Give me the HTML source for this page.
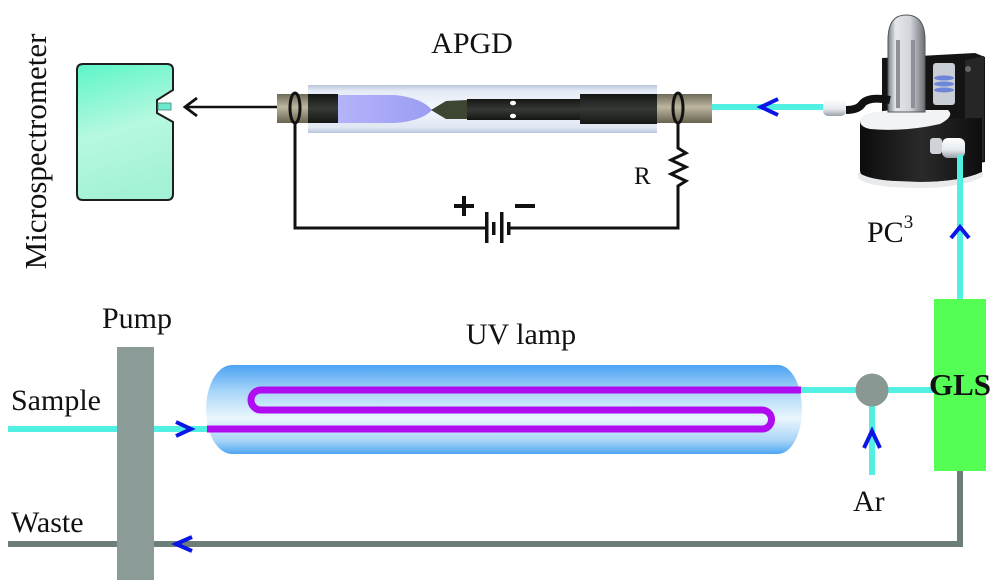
<!DOCTYPE html>
<html><head><meta charset="utf-8"><style>
html,body{margin:0;padding:0;background:#fff;}
svg{display:block;}
text{font-family:"Liberation Serif",serif;fill:#111;}
</style></head><body>
<svg width="1000" height="583" viewBox="0 0 1000 583" xmlns="http://www.w3.org/2000/svg">
<defs>
<linearGradient id="spec" x1="0" y1="0" x2="0.2" y2="1">
<stop offset="0" stop-color="#5cf5c8"/><stop offset="0.55" stop-color="#b6f8e0"/><stop offset="1" stop-color="#a4f2d6"/>
</linearGradient>
<linearGradient id="brown" x1="0" y1="0" x2="0" y2="1">
<stop offset="0" stop-color="#6e6a58"/><stop offset="0.45" stop-color="#bdb7a0"/><stop offset="1" stop-color="#67634f"/>
</linearGradient>
<linearGradient id="glass" x1="0" y1="0" x2="0" y2="1">
<stop offset="0" stop-color="#b9c5dc"/><stop offset="0.12" stop-color="#e4eaf5"/><stop offset="0.5" stop-color="#f4f7fc"/><stop offset="0.88" stop-color="#e0e7f3"/><stop offset="1" stop-color="#b9c5dc"/>
</linearGradient>
<linearGradient id="dark" x1="0" y1="0" x2="0" y2="1">
<stop offset="0" stop-color="#141614"/><stop offset="0.5" stop-color="#363a36"/><stop offset="1" stop-color="#141614"/>
</linearGradient>
<linearGradient id="glow" x1="0" y1="0" x2="1" y2="0">
<stop offset="0" stop-color="#b4b4fa"/><stop offset="1" stop-color="#9c9cf2"/>
</linearGradient>
<linearGradient id="uv" x1="0" y1="0" x2="0" y2="1">
<stop offset="0" stop-color="#4aa2f3"/><stop offset="0.3" stop-color="#a9d6f8"/><stop offset="0.6" stop-color="#eaf6fd"/><stop offset="0.85" stop-color="#a8d4f7"/><stop offset="1" stop-color="#4ea6f2"/>
</linearGradient>
<linearGradient id="bulb" x1="0" y1="0" x2="1" y2="0">
<stop offset="0" stop-color="#7a7e82"/><stop offset="0.2" stop-color="#e4e7ea"/><stop offset="0.6" stop-color="#d2d6da"/><stop offset="1" stop-color="#6a6e72"/>
</linearGradient>
<linearGradient id="conn" x1="0" y1="0" x2="0" y2="1">
<stop offset="0" stop-color="#ffffff"/><stop offset="0.6" stop-color="#e4e8ee"/><stop offset="1" stop-color="#9aa0a8"/>
</linearGradient>
<linearGradient id="body" x1="0" y1="0" x2="1" y2="0">
<stop offset="0" stop-color="#0c0c0c"/><stop offset="0.5" stop-color="#2a2a2a"/><stop offset="1" stop-color="#0e0e0e"/>
</linearGradient>
</defs>

<!-- Microspectrometer -->
<text transform="translate(46,151.5) rotate(-90)" text-anchor="middle" font-size="31">Microspectrometer</text>
<path d="M83,64 L167,64 Q173,64 173,70 L173,90 L157,100 L157,113 L173,122 L173,194 Q173,200 167,200 L83,200 Q77,200 77,194 L77,70 Q77,64 83,64 Z" fill="url(#spec)" stroke="#1e1e1e" stroke-width="2"/>
<rect x="158" y="103" width="13" height="7" fill="#6ee8cc" stroke="#3a8a78" stroke-width="0.8"/>
<line x1="185" y1="107" x2="277" y2="107" stroke="#111" stroke-width="2.5"/>
<polyline points="197,98 185,107 197,116" fill="none" stroke="#111" stroke-width="2.8"/>

<!-- APGD -->
<text x="472" y="53" text-anchor="middle" font-size="30">APGD</text>
<rect x="308" y="85" width="349" height="48" fill="url(#glass)"/>
<rect x="277" y="94" width="31" height="29" fill="url(#brown)"/>
<rect x="657" y="94" width="55" height="29" fill="url(#brown)"/>
<rect x="308" y="94" width="30" height="29" fill="url(#dark)"/>
<path d="M338,95 L395,95 Q422,98 432,110 Q422,121 395,123 L338,123 Z" fill="url(#glow)"/>
<path d="M431,110 L446,101 L467,100 L467,119 L446,119 Z" fill="#3d4533"/>
<rect x="467" y="99" width="113" height="21" fill="url(#dark)"/>
<ellipse cx="513" cy="103" rx="3" ry="2.3" fill="#fff"/>
<ellipse cx="513" cy="116" rx="3" ry="2.3" fill="#fff"/>
<rect x="580" y="94" width="77" height="30" fill="url(#dark)"/>
<ellipse cx="295" cy="108" rx="5" ry="15" fill="none" stroke="#111" stroke-width="3"/>
<ellipse cx="678" cy="108" rx="5" ry="15" fill="none" stroke="#111" stroke-width="3"/>
<!-- circuit -->
<polyline points="295,123 295,228 486,228" fill="none" stroke="#111" stroke-width="3"/>
<polyline points="678,123 678,148 686,153 671,160 686,167 671,174 686,181 678,186 678,228 508,228" fill="none" stroke="#111" stroke-width="3" stroke-linejoin="miter"/>
<rect x="485" y="212" width="3.5" height="31" fill="#111"/>
<rect x="492" y="222" width="3.5" height="13" fill="#111"/>
<rect x="500" y="212" width="3.5" height="31" fill="#111"/>
<rect x="507" y="222" width="3.5" height="13" fill="#111"/>
<rect x="454" y="204" width="20" height="4" fill="#111"/>
<rect x="462" y="196" width="4" height="20" fill="#111"/>
<rect x="515" y="204" width="20" height="4" fill="#111"/>
<text x="634" y="184" font-size="25">R</text>

<!-- cyan to APGD -->
<line x1="712" y1="107" x2="826" y2="107" stroke="#52f0e2" stroke-width="6"/>
<polyline points="778,99 761,107 778,115" fill="none" stroke="#0b16e6" stroke-width="4"/>

<!-- PC3 device -->
<path d="M882,58 L975,53 L985,57 L985,162 L945,168 L882,162 Z" fill="#141414"/>
<path d="M965,60 L984,56 L984,160 L965,164 Z" fill="#262626"/>
<rect x="933" y="63" width="22" height="42" rx="3" fill="#c9ced6"/>
<ellipse cx="944" cy="78" rx="10" ry="2.5" fill="#6f86d8"/>
<ellipse cx="944" cy="84" rx="10" ry="2.5" fill="#6f86d8"/>
<ellipse cx="944" cy="90" rx="10" ry="2.5" fill="#6f86d8"/>
<circle cx="968" cy="69" r="3" fill="#666"/>
<path d="M860,120 L982,118 L982,172 Q960,182 920,182 L872,180 Q860,178 860,170 Z" fill="url(#body)"/>
<path d="M858,172 Q870,182 920,182 Q960,182 983,172 L983,177 Q960,188 920,188 Q868,188 858,178 Z" fill="#e8eaec"/>
<path d="M860,121 Q860,111 900,110 L948,110 Q955,116 940,124 Q905,132 870,129 Q860,127 860,121 Z" fill="#f2f3f4"/>
<path d="M888,40 Q888,15 906,15 Q925,15 925,40 L925,112 L888,112 Z" fill="url(#bulb)" stroke="#555" stroke-width="1"/>
<rect x="896" y="40" width="4" height="68" fill="#8d9195"/>
<rect x="911" y="40" width="4" height="68" fill="#8d9195"/>
<path d="M890,100 Q868,96 862,104 Q858,110 846,110" fill="none" stroke="#111" stroke-width="8"/>
<rect x="823" y="99" width="23" height="17" rx="5" fill="url(#conn)"/>
<rect x="930" y="138" width="12" height="16" rx="3" fill="#cfd3d8"/>
<rect x="942" y="138" width="23" height="20" rx="6" fill="url(#conn)"/>
<text x="867" y="242" font-size="30">PC<tspan font-size="19" dy="-14">3</tspan></text>

<!-- cyan up to PC3 -->
<line x1="960" y1="155" x2="960" y2="300" stroke="#52f0e2" stroke-width="6"/>
<polyline points="951,238 960,227 969,238" fill="none" stroke="#0b16e6" stroke-width="4"/>

<!-- bottom lines -->
<line x1="8" y1="429" x2="208" y2="429" stroke="#52f0e2" stroke-width="6"/>
<polyline points="8,544 960,544 960,470" fill="none" stroke="#6d7d79" stroke-width="6"/>
<line x1="800" y1="390" x2="935" y2="390" stroke="#52f0e2" stroke-width="6"/>
<line x1="872" y1="390" x2="872" y2="475" stroke="#52f0e2" stroke-width="6"/>

<!-- UV lamp -->
<text x="521" y="344" text-anchor="middle" font-size="30">UV lamp</text>
<path d="M232,365 L778,365 A24,44.5 0 0 1 778,454 L232,454 A26,44.5 0 0 1 232,365 Z" fill="url(#uv)"/>
<path d="M207,429 L762,429 A9.5,9.5 0 0 0 762,410 L261,410 A10,10 0 0 1 261,390 L801,390" fill="none" stroke="#b00cf0" stroke-width="7"/>

<!-- pump -->
<rect x="117" y="347" width="37" height="233" fill="#8b9b97"/>
<text x="137" y="328" text-anchor="middle" font-size="30">Pump</text>
<text x="11" y="410" font-size="30">Sample</text>
<text x="11" y="532" font-size="30">Waste</text>
<polyline points="176,422 191,429 176,436" fill="none" stroke="#0b16e6" stroke-width="4"/>
<polyline points="192,537 176,544 192,551" fill="none" stroke="#0b16e6" stroke-width="4"/>

<!-- Ar junction -->
<circle cx="872" cy="390" r="16.5" fill="#8a9894"/>
<polyline points="864,448 872,431 880,448" fill="none" stroke="#0b16e6" stroke-width="4"/>
<text x="853" y="511" font-size="30">Ar</text>

<!-- GLS -->
<rect x="934" y="299" width="52" height="172" fill="#55fe55"/>
<text x="960" y="395" text-anchor="middle" font-size="31" font-weight="bold">GLS</text>
</svg>
</body></html>
